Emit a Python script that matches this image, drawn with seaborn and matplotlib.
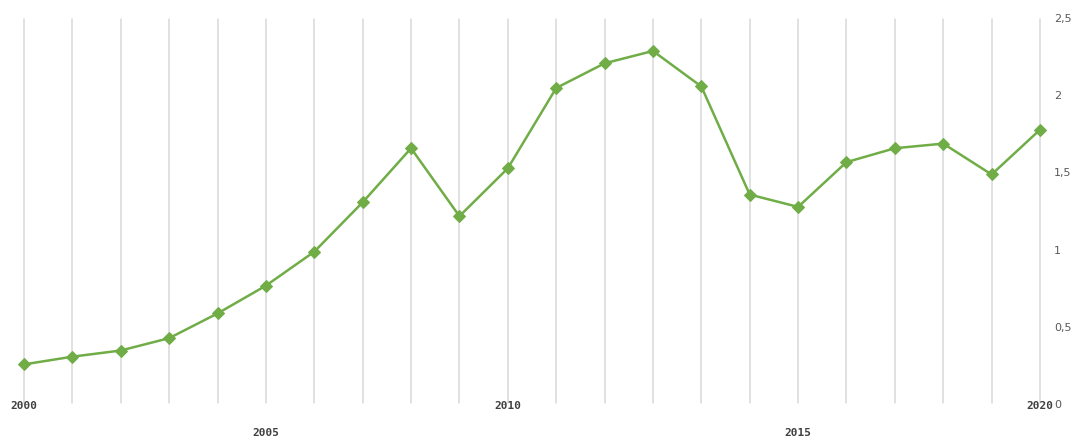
import matplotlib
matplotlib.use("Agg")
import matplotlib.pyplot as plt
import seaborn as sns
import pandas as pd
from matplotlib.ticker import FuncFormatter

# Data (22 points on a category axis)
values = [0.25, 0.30, 0.34, 0.42, 0.58, 0.76, 0.98, 1.30, 1.65, 1.21, 1.52,
          2.04, 2.20, 2.28, 2.05, 1.35, 1.27, 1.56, 1.65, 1.68, 1.48, 1.77]
label_positions = [0, 5, 10, 16, 21]
label_texts = ["2000", "2005", "2010", "2015", "2020"]
y_ticks = [0, 0.5, 1, 1.5, 2, 2.5]

df = pd.DataFrame({"idx": range(len(values)), "value": values})

sns.set_style("white")
fig = plt.figure(figsize=(10.76, 4.39), dpi=100)
ax = fig.add_axes([24 / 1076, 1 - 404 / 439, (1040 - 24) / 1076, (404 - 18) / 439])

# vertical gridlines at every category
for i in df["idx"]:
    ax.axvline(i, ymin=0, ymax=0.995, color="#D9D9D9", linewidth=1.1,
               zorder=0, clip_on=False)

sns.lineplot(data=df, x="idx", y="value", ax=ax, color="#70AD47",
             linewidth=1.8, marker="D", markersize=6,
             markeredgecolor="#70AD47", zorder=3, clip_on=False)

ax.set_xlim(0, len(values) - 1)
ax.set_ylim(0, 2.5)
ax.set_xlabel("")
ax.set_ylabel("")
for s in ax.spines.values():
    s.set_visible(False)

# right-hand y axis labels with comma decimals
ax.yaxis.tick_right()
ax.set_yticks(y_ticks)
ax.yaxis.set_major_formatter(FuncFormatter(lambda v, p: f"{v:g}".replace(".", ",")))
ax.tick_params(axis="y", length=0, pad=10, labelsize=8, labelcolor="#595959")

# staggered x labels
ax.set_xticks(label_positions)
ax.set_xticklabels(label_texts, family="DejaVu Sans Mono", fontweight="bold",
                   fontsize=8, color="#404040")
ax.tick_params(axis="x", length=0)
for k, t in enumerate(ax.xaxis.get_major_ticks()):
    t.set_pad(-2.5 if k % 2 == 0 else 17)
ax.grid(False)

fig.savefig("out.png", dpi=100)
